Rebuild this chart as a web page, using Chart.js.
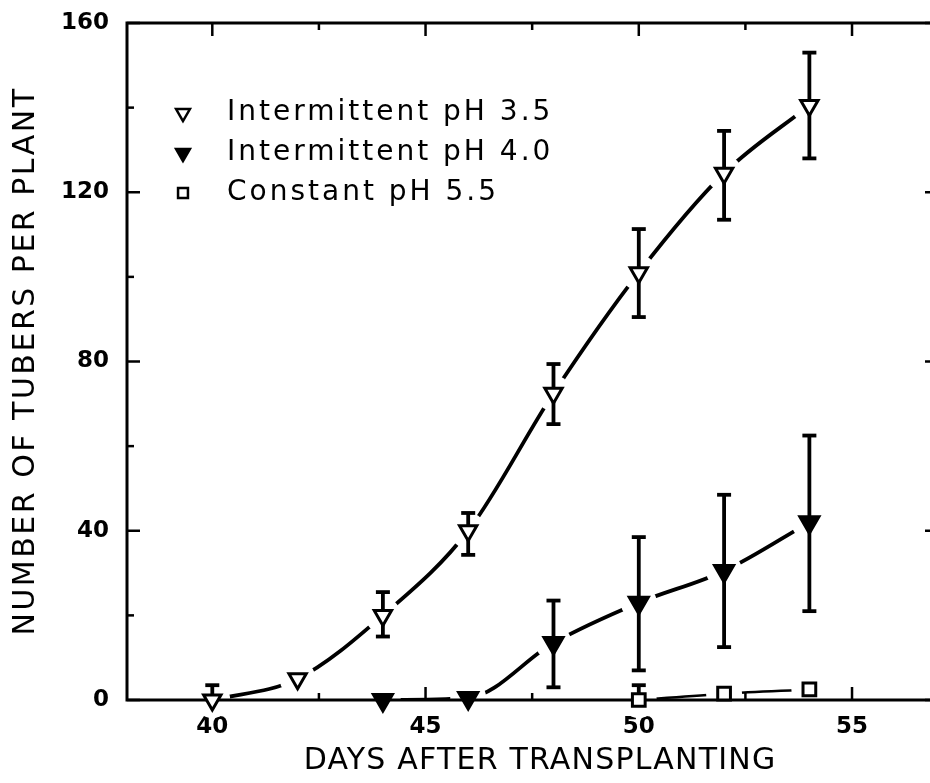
<!DOCTYPE html>
<html><head><meta charset="utf-8">
<script src="https://cdn.jsdelivr.net/npm/chart.js@4/dist/chart.umd.min.js"></script>
<style>
html,body{margin:0;padding:0;background:#fff;overflow:hidden;width:930px;height:783px}
#c{display:block}
</style></head>
<body><canvas id="c" width="930" height="783"></canvas>
<script>
// ---- data ----
const days35 = [40, 42, 44, 46, 48, 50, 52, 54];
const tubers35 = [0, 5, 20, 40, 72.5, 101, 124.5, 140.5];
const lo35 = [0, null, 15, 34.3, 65.2, 90.5, 113.5, 128];
const hi35 = [3.5, null, 25.5, 44.2, 79.4, 111.3, 134.5, 153];

const days40 = [44, 46, 48, 50, 52, 54];
const tubers40 = [0, 0.5, 13.5, 23, 30.5, 42];
const lo40 = [null, null, 3, 7, 12.5, 21];
const hi40 = [null, null, 23.5, 38.5, 48.5, 62.5];

const days55 = [50, 52, 54];
const tubers55 = [0, 1.5, 2.5];
const lo55 = [0, null, null];
const hi55 = [3.5, null, null];

const seriesLabels = ['Intermittent pH 3.5', 'Intermittent pH 4.0', 'Constant pH 5.5'];
const xTickLabels = [40, 45, 50, 55];
const yTickLabels = [0, 40, 80, 120, 160];
const xTickMarks = [40, 42.5, 45, 47.5, 50, 52.5, 55];
const yTickMarks = [0, 20, 40, 60, 80, 100, 120, 140, 160];
const xTitle = 'DAYS AFTER TRANSPLANTING';
const yTitle = 'NUMBER OF TUBERS PER PLANT';

// ---- build ----
const series = [
  {label: seriesLabels[0], days: days35, vals: tubers35, lo: lo35, hi: hi35, style: 'triangle', rot: 180, r: 10, fill: '#fff', lw: 3.8},
  {label: seriesLabels[1], days: days40, vals: tubers40, lo: lo40, hi: hi40, style: 'triangle', rot: 180, r: 11, fill: '#000', lw: 3.8},
  {label: seriesLabels[2], days: days55, vals: tubers55, lo: lo55, hi: hi55, style: 'rect', rot: 0, r: 9, fill: '#fff', lw: 2.5}
];
const pts = s => s.days.map((d, i) => ({x: d, y: s.vals[i]}));
const NS = series.length;

const datasets = [];
series.forEach(s => {   // indices 0..NS-1 : markers
  datasets.push({
    label: s.label, data: pts(s), showLine: false, clip: false,
    pointStyle: s.style, pointRotation: s.rot, pointRadius: s.r, pointHoverRadius: s.r,
    pointBackgroundColor: s.fill, pointBorderColor: '#000', pointBorderWidth: 3
  });
});
series.forEach(s => {   // indices NS..2NS-1 : fitted curves
  datasets.push({
    label: s.label + ' fit', data: pts(s), showLine: true,
    borderColor: '#000', borderWidth: s.lw, pointRadius: 0, pointHoverRadius: 0,
    cubicInterpolationMode: 'monotone'
  });
});

function seg(ctx, x1, y1, x2, y2) { ctx.beginPath(); ctx.moveTo(x1, y1); ctx.lineTo(x2, y2); ctx.stroke(); }

const decor = {
  id: 'decor',
  beforeDatasetDraw(chart, args) {
    const idx = args.meta ? args.meta.index : args.index;
    if (idx < NS) return false;   // markers are drawn later, on top
  },
  afterDatasetsDraw(chart) {
    const {ctx, chartArea: a, scales: {x, y}} = chart;
    const edge = chart.width;     // right axis sits just beyond the picture edge
    ctx.save();
    // white halos: gaps in the curves around the markers
    ctx.fillStyle = '#fff';
    series.forEach(s => s.days.forEach((d, i) => {
      ctx.beginPath();
      ctx.arc(x.getPixelForValue(d), y.getPixelForValue(s.vals[i]), 18, 0, Math.PI * 2);
      ctx.fill();
    }));
    // frame
    ctx.strokeStyle = '#000';
    ctx.lineWidth = 3;
    ctx.beginPath();
    ctx.moveTo(edge + 5, a.top); ctx.lineTo(a.left, a.top);
    ctx.lineTo(a.left, a.bottom); ctx.lineTo(edge + 5, a.bottom);
    ctx.stroke();
    // inward tick marks
    ctx.lineWidth = 2.5;
    xTickMarks.forEach(v => {
      const px = x.getPixelForValue(v), L = (v % 5 === 0) ? 13 : 7;
      seg(ctx, px, a.bottom, px, a.bottom - L);
      seg(ctx, px, a.top, px, a.top + L);
    });
    yTickMarks.forEach(v => {
      const py = y.getPixelForValue(v), L = (v % 40 === 0) ? 13 : 7;
      seg(ctx, a.left, py, a.left + L, py);
      seg(ctx, edge + 8, py, edge + 8 - L, py);
    });
    // error bars
    ctx.lineWidth = 3.8;
    series.forEach(s => {
      s.days.forEach((d, i) => {
        if (s.hi[i] == null) return;
        const px = x.getPixelForValue(d);
        const yh = y.getPixelForValue(s.hi[i]);
        const yl = y.getPixelForValue(s.lo[i] == null ? s.vals[i] : s.lo[i]);
        seg(ctx, px, yl, px, yh);
        seg(ctx, px - 7, yh, px + 7, yh);
        if (s.lo[i] != null && s.lo[i] > 0) seg(ctx, px - 7, yl, px + 7, yl);
      });
    });
    ctx.restore();
    // markers, drawn by the library's own point elements
    const big = {left: -1e4, top: -1e4, right: 1e4, bottom: 1e4};
    for (let k = 0; k < NS; k++) {
      chart.getDatasetMeta(k).data.forEach(el => { ctx.save(); el.draw(ctx, big); ctx.restore(); });
    }
  },
  afterDraw(chart) {
    const {ctx, chartArea: a} = chart;
    ctx.save();
    ctx.fillStyle = '#000';
    ctx.font = '30px "DejaVu Sans"';
    ctx.textAlign = 'center';
    ctx.textBaseline = 'middle';
    ctx.letterSpacing = '1.2px';
    ctx.fillText(xTitle, 540, 761);
    ctx.save();
    ctx.translate(26, 361);
    ctx.rotate(-Math.PI / 2);
    ctx.letterSpacing = '2.5px';
    ctx.fillText(yTitle, 0, 0);
    ctx.restore();
    ctx.font = '28px "DejaVu Sans"';
    ctx.textAlign = 'left';
    ctx.letterSpacing = '3px';
    series.forEach((s, k) => {
      const ly = a.top + 90 + 40 * k;
      const lx = a.left + 56;
      ctx.fillStyle = s.fill; ctx.strokeStyle = '#000'; ctx.lineWidth = 2.5;
      Chart.helpers.drawPoint(ctx, {pointStyle: s.style, rotation: s.rot, radius: s.style === 'rect' ? 7 : 8, borderWidth: 2.5}, lx, ly);
      ctx.fillStyle = '#000';
      ctx.fillText(s.label, a.left + 100, ly);
    });
    ctx.letterSpacing = '0px';
    ctx.restore();
  }
};

new Chart(document.getElementById('c'), {
  type: 'scatter',
  data: {datasets},
  options: {
    responsive: false, devicePixelRatio: 1, animation: false,
    layout: {padding: {top: 23, right: 0, left: 0, bottom: 0}},
    plugins: {legend: {display: false}, tooltip: {enabled: false}},
    events: [],
    scales: {
      x: {
        type: 'linear', min: 38, max: 56.5,
        afterBuildTicks: sc => { sc.ticks = xTickLabels.map(v => ({value: v})); },
        afterFit: sc => { sc.height = 83; sc.paddingLeft = 0; sc.paddingRight = 0; },
        grid: {display: false, drawTicks: false}, border: {display: false},
        ticks: {padding: 13, color: '#000', font: {family: 'DejaVu Sans', size: 23, weight: 'bold'}}
      },
      y: {
        type: 'linear', min: 0, max: 160,
        afterBuildTicks: sc => { sc.ticks = yTickLabels.map(v => ({value: v})); },
        afterFit: sc => { sc.width = 127; sc.paddingTop = 0; sc.paddingBottom = 0; },
        grid: {display: false, drawTicks: false}, border: {display: false},
        ticks: {padding: 18, color: '#000', font: {family: 'DejaVu Sans', size: 23, weight: 'bold'}}
      }
    }
  },
  plugins: [decor]
});
</script>
</body></html>
